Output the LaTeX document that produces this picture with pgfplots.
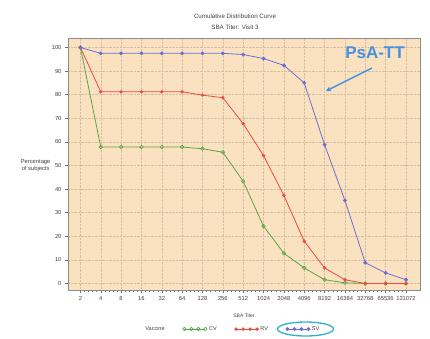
\documentclass[border=0pt]{standalone}
\usepackage{pgfplots}
\pgfplotsset{compat=1.18}
\usetikzlibrary{arrows.meta}
\usepackage{fontspec}
\setmainfont{Liberation Sans}
\definecolor{bgpeach}{RGB}{250,226,192}
\definecolor{gridc}{RGB}{215,190,160}
\definecolor{cvgreen}{RGB}{90,165,75}
\definecolor{rvred}{RGB}{235,75,65}
\definecolor{svblue}{RGB}{110,110,215}
\definecolor{psablue}{RGB}{70,145,225}
\definecolor{ellcyan}{RGB}{45,180,200}
\pgfplotstableread{
x CV RV SV
0 100 100 100
1 57.8 81.2 97.5
2 57.8 81.2 97.5
3 57.8 81.2 97.5
4 57.8 81.2 97.5
5 57.8 81.2 97.5
6 57.1 79.8 97.5
7 55.6 78.7 97.5
8 43.3 67.7 97.0
9 24.3 54.2 95.3
10 12.8 37.3 92.4
11 6.6 17.9 85.0
12 1.6 6.6 58.8
13 0.3 1.6 35.2
14 0 0 8.8
15 0 0 4.5
16 0 0 1.6
}\datatable
\begin{document}
\begin{tikzpicture}[x=1pt,y=1pt]
\useasboundingbox (0pt,0pt) rectangle (430pt,338pt);
\begin{axis}[
  at={(68pt,48pt)}, anchor=south west,
  scale only axis, width=352pt, height=252pt,
  xmin=-0.61, xmax=16.69, ymin=-2.75, ymax=104.0,
  xtick={0,...,16},
  xticklabels={2,4,8,16,32,64,128,256,512,1024,2048,4096,8192,16384,32768,65536,131072},
  minor x tick num=4,
  ytick={0,10,...,100},
  tick align=outside, tick pos=left,
  major tick length=3pt, minor tick length=2pt,
  /pgf/number format/assume math mode=true,
  ticklabel style={font=\fontsize{5.8}{6.5}\selectfont, color=black!75},
  axis background/.style={fill=bgpeach},
  axis line style={draw=black!45},
  every tick/.style={draw=black!55},
  grid=major,
  major grid style={draw=gridc, densely dotted, line width=0.5pt},
  xlabel={SBA Titer},
  xlabel style={font=\fontsize{5}{6}\selectfont, color=black!75, at={(axis description cs:0.5,-0.103)}, anchor=center},
  ylabel={Percentage\\of subjects},
  ylabel style={font=\fontsize{5.8}{7}\selectfont, color=black!75, align=center, rotate=-90, at={(axis description cs:-0.092,0.494)}, anchor=center},
  legend columns=4,
  legend style={at={(0.467,-0.155)}, anchor=center, draw=none, fill=none,
    font=\fontsize{5.5}{6.5}\selectfont, text=black!75,
    /tikz/every even column/.append style={column sep=16pt}},
  legend image code/.code={\draw[mark repeat=1,mark phase=1] plot coordinates {(0pt,0pt) (7pt,0pt) (14pt,0pt) (21pt,0pt)};},
]
\addlegendimage{empty legend}
\addlegendentry{Vaccine}
\addplot[color=cvgreen, line width=0.8pt, mark=o, mark size=1.8pt, mark options={line width=0.6pt}] table[x=x,y=CV]{\datatable};
\addlegendentry{CV}
\addplot[color=rvred, line width=0.8pt, mark=*, mark size=1.3pt] table[x=x,y=RV]{\datatable};
\addlegendentry{RV}
\addplot[color=svblue, line width=0.8pt, mark=*, mark size=1.5pt] table[x=x,y=SV]{\datatable};
\addlegendentry{SV}
\end{axis}
\node[font=\fontsize{6.2}{7}\selectfont, text=black!75] at (235pt,322pt) {Cumulative Distribution Curve};
\node[font=\fontsize{6.2}{7}\selectfont, text=black!75] at (235pt,311pt) {SBA Titer: Visit 3};
\node[font=\fontsize{17}{19}\selectfont\bfseries, text=psablue] at (375pt,285pt) {PsA-TT};
\draw[psablue, line width=1.5pt, -{Stealth[length=5pt,width=5pt]}] (372pt,270pt) -- (326pt,247pt);
\draw[ellcyan, line width=1.3pt] (305.5pt,9pt) ellipse (28pt and 7pt);
\end{tikzpicture}
\end{document}
